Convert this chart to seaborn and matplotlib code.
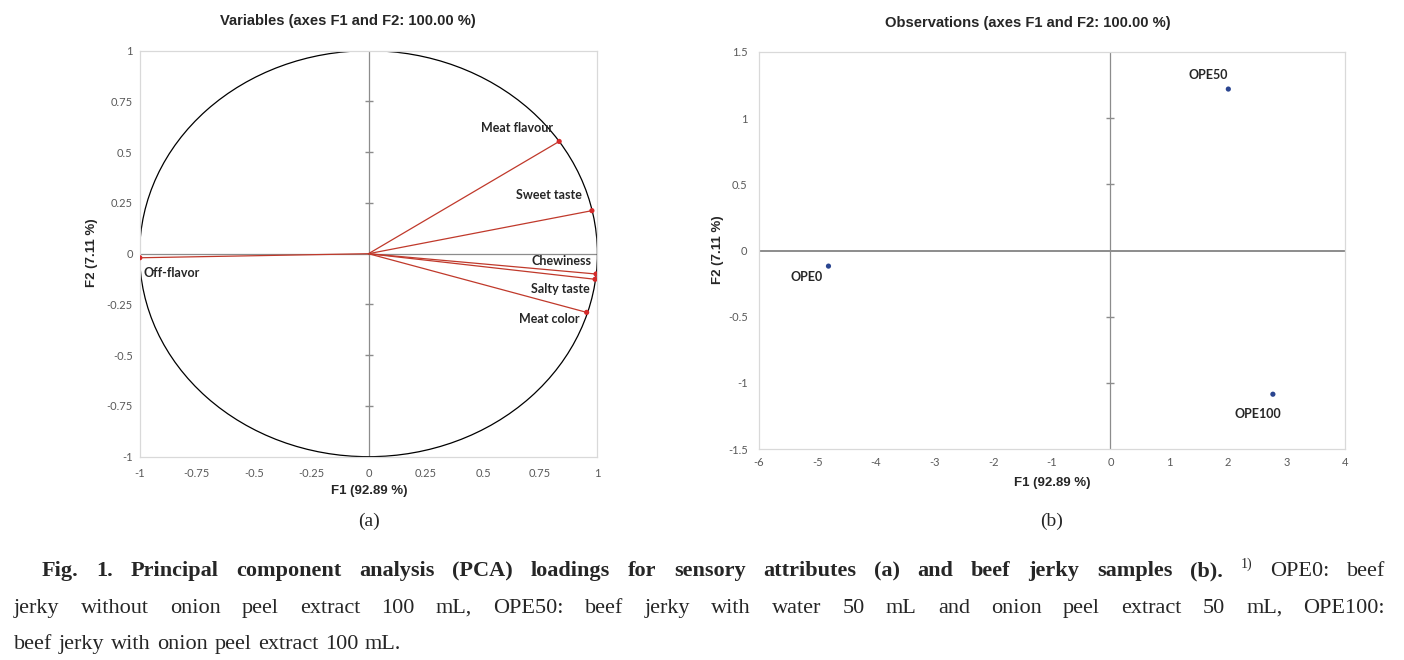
import numpy as np
import matplotlib
matplotlib.use("Agg")
import matplotlib.pyplot as plt
import seaborn as sns
from matplotlib.patches import Circle
from matplotlib.ticker import FuncFormatter

# PCA loadings (a)
variables = ["Meat flavour", "Sweet taste", "Chewiness", "Salty taste", "Meat color", "Off-flavor"]
load_f1 = [0.833, 0.976, 0.994, 0.990, 0.953, -0.999]
load_f2 = [0.553, 0.212, -0.100, -0.126, -0.289, -0.020]

# PCA scores (b)
samples = ["OPE0", "OPE50", "OPE100"]
score_f1 = [-4.81, 2.01, 2.77]
score_f2 = [-0.118, 1.22, -1.086]

ticks_a = [-1, -0.75, -0.5, -0.25, 0, 0.25, 0.5, 0.75, 1]
xticks_b = [-6, -5, -4, -3, -2, -1, 0, 1, 2, 3, 4]
yticks_b = [-1.5, -1, -0.5, 0, 0.5, 1, 1.5]

sns.set_style("white")
plt.rcParams['axes.unicode_minus'] = False
plt.rcParams['font.family'] = ['Lato', 'DejaVu Sans']

W, H = 1404, 660
fig = plt.figure(figsize=(W / 100, H / 100), dpi=100)


def fx(px):
    return px / W


def fy(py):
    return 1 - py / H


def style_axes(ax, hlw=0.9):
    for s in ax.spines.values():
        s.set_color("#d9d9d9")
        s.set_linewidth(0.9)
    ax.tick_params(length=0, labelsize=8, colors="#595959")
    ax.xaxis.set_major_formatter(FuncFormatter(lambda v, p: f"{v:g}"))
    ax.yaxis.set_major_formatter(FuncFormatter(lambda v, p: f"{v:g}"))
    ax.axhline(0, color="#8c8c8c", lw=hlw, zorder=1)
    ax.axvline(0, color="#8c8c8c", lw=0.9, zorder=1)


# ---- (a) variables
ax1 = fig.add_axes([fx(139.6), fy(456.7), fx(457.8), 406 / H])
style_axes(ax1)
ax1.add_patch(Circle((0, 0), 1, fill=False, color="black", lw=0.9, zorder=2))
for x, y in zip(load_f1, load_f2):
    ax1.plot([0, x], [0, y], color="#c0392b", lw=0.9, zorder=3)
sns.scatterplot(x=load_f1, y=load_f2, ax=ax1, color="#d42a2a", s=14,
                edgecolor="none", zorder=4)
inner = [t for t in ticks_a if t not in (-1, 0, 1)]
ax1.plot([0] * len(inner), inner, ls="none", marker="_", ms=6, color="#8c8c8c", zorder=1)
ax1.set_xlim(-1, 1)
ax1.set_ylim(-1, 1)
ax1.set_xticks(ticks_a)
ax1.set_yticks(ticks_a)
ax1.tick_params(axis="x", pad=8)
ax1.tick_params(axis="y", pad=5)

offsets_a = {"Meat flavour": (-4, 10, "right"), "Sweet taste": (-7, 11, "right"),
             "Chewiness": (-3, 9, "right"), "Salty taste": (-4, -7, "right"),
             "Meat color": (-5, -5, "right"), "Off-flavor": (3, -11, "left")}
for name, x, y in zip(variables, load_f1, load_f2):
    dx, dy, ha = offsets_a[name]
    ax1.annotate(name, (x, y), xytext=(dx, dy), textcoords="offset points",
                 ha=ha, va="center", fontsize=9, fontweight="bold", color="#262626")

# ---- (b) observations
ax2 = fig.add_axes([fx(758.7), fy(449), fx(1345 - 758.7), 397 / H])
style_axes(ax2, hlw=1.4)
inner_b = [t for t in yticks_b if t not in (-1.5, 0, 1.5)]
ax2.plot([0] * len(inner_b), inner_b, ls="none", marker="_", ms=6, color="#8c8c8c", zorder=1)
sns.scatterplot(x=score_f1, y=score_f2, ax=ax2, color="#2a4590", s=14,
                edgecolor="none", zorder=4)
ax2.set_xlim(-6, 4)
ax2.set_ylim(-1.5, 1.5)
ax2.set_xticks(xticks_b)
ax2.set_yticks(yticks_b)
ax2.tick_params(axis="x", pad=6)
ax2.tick_params(axis="y", pad=8)

offsets_b = {"OPE0": (-4, -7.5), "OPE50": (0, 10), "OPE100": (6, -14)}
for name, x, y in zip(samples, score_f1, score_f2):
    dx, dy = offsets_b[name]
    ax2.annotate(name, (x, y), xytext=(dx, dy), textcoords="offset points",
                 ha="right", va="center", fontsize=9, fontweight="bold", color="#262626")

# titles and axis labels (Excel-like placement)
tfont = dict(family=["Liberation Sans", "DejaVu Sans"], fontweight="bold", color="#262626")
fig.text(fx(348), fy(21), "Variables (axes F1 and F2: 100.00 %)", ha="center", va="center", fontsize=10.6, **tfont)
fig.text(fx(1028), fy(23), "Observations (axes F1 and F2: 100.00 %)", ha="center", va="center", fontsize=10.6, **tfont)
fig.text(fx(369), fy(491), "F1 (92.89 %)", ha="center", va="center", fontsize=9.5, **tfont)
fig.text(fx(1052), fy(483), "F1 (92.89 %)", ha="center", va="center", fontsize=9.5, **tfont)
fig.text(fx(92), fy(253), "F2 (7.11 %)", ha="center", va="center", rotation=90, fontsize=9.5, **tfont)
fig.text(fx(718), fy(250), "F2 (7.11 %)", ha="center", va="center", rotation=90, fontsize=9.5, **tfont)

serif = ["Liberation Serif", "DejaVu Serif"]
fig.text(fx(369), fy(521), "(a)", ha="center", va="center", fontsize=14, family=serif)
fig.text(fx(1052), fy(521), "(b)", ha="center", va="center", fontsize=14, family=serif)

# ---- caption, justified word by word
bold_part = "Fig. 1. Principal component analysis (PCA) loadings for sensory attributes (a) and beef jerky samples (b)."
line1 = [(w, "bold") for w in bold_part.split()] + [("1)", "sup")] + \
        [(w, "normal") for w in "OPE0: beef".split()]
line2 = [(w, "normal") for w in
         "jerky without onion peel extract 100 mL, OPE50: beef jerky with water 50 mL and onion peel extract 50 mL, OPE100:".split()]
line3 = [(w, "normal") for w in "beef jerky with onion peel extract 100 mL.".split()]

renderer = fig.canvas.get_renderer()


def put_line(tokens, base_y, x0, x1, justify=True):
    arts = []
    for w, kind in tokens:
        if kind == "sup":
            t = fig.text(0, fy(base_y - 8), w, fontsize=10, family=serif, va="baseline")
        else:
            t = fig.text(0, fy(base_y), w, fontsize=16, family=serif, va="baseline",
                         fontweight=kind)
        arts.append(t)
    widths = [a.get_window_extent(renderer).width for a in arts]
    if justify:
        gap = (x1 - x0 - sum(widths)) / (len(arts) - 1)
    else:
        gap = 6.5
    x = x0
    for a, wd in zip(arts, widths):
        a.set_x(fx(x))
        x += wd + gap


put_line(line1, 576, 42, 1385)
put_line(line2, 613, 14, 1385)
put_line(line3, 649, 14, 1385, justify=False)

fig.savefig("out.png", dpi=100)
